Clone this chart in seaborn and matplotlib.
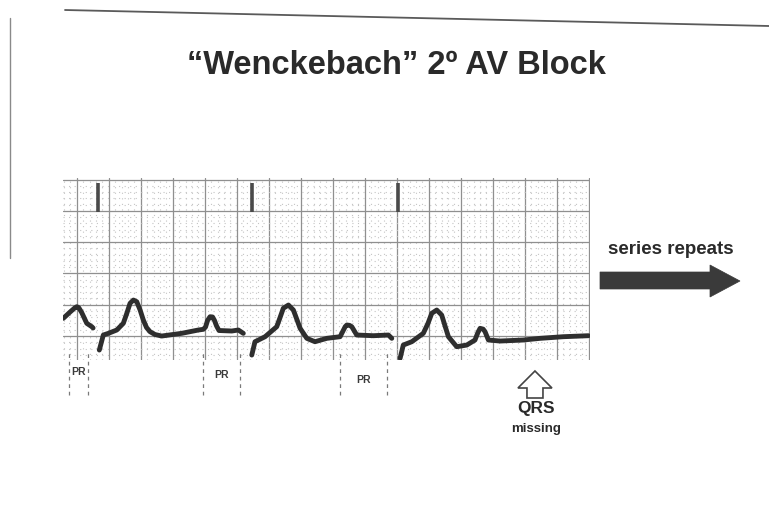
import numpy as np
import pandas as pd
import matplotlib
matplotlib.use("Agg")
import matplotlib.pyplot as plt
import seaborn as sns
from matplotlib.patches import Polygon

# ---------------- data (time in s, amplitude in mV) ----------------
seg1_t = [-0.084, -0.042, -0.012, 0.000, 0.012, 0.030, 0.0625, 0.094, 0.102]
seg1_mv = [0.283, 0.383, 0.450, 0.468, 0.455, 0.380, 0.203, 0.149, 0.128]

seg2_t = [0.141, 0.166, 0.198, 0.250, 0.291, 0.3125, 0.333, 0.354, 0.375, 0.396,
          0.416, 0.436, 0.458, 0.489, 0.531, 0.656, 0.760, 0.791, 0.805, 0.8175,
          0.833, 0.849, 0.861, 0.874, 0.889, 0.969, 1.010, 1.041]
seg2_mv = [-0.224, 0.016, 0.043, 0.096, 0.203, 0.360, 0.522, 0.575, 0.548, 0.415,
           0.256, 0.136, 0.069, 0.024, 0.000, 0.043, 0.096, 0.107, 0.144, 0.248,
           0.308, 0.304, 0.248, 0.160, 0.088, 0.080, 0.096, 0.043]

seg3_t = [1.094, 1.114, 1.177, 1.250, 1.270, 1.291, 1.323, 1.354, 1.375, 1.396,
          1.438, 1.489, 1.563, 1.646, 1.664, 1.678, 1.688, 1.705, 1.719, 1.750,
          1.854, 1.948, 1.969]
seg3_mv = [-0.304, -0.091, -0.011, 0.149, 0.290, 0.443, 0.495, 0.415, 0.270, 0.123,
           -0.037, -0.091, -0.037, -0.011, 0.080, 0.150, 0.176, 0.170, 0.149, 0.016,
           0.005, 0.016, -0.037]

seg4_t = [2.021, 2.041, 2.094, 2.166, 2.195, 2.219, 2.250, 2.281, 2.302, 2.323,
          2.375, 2.438, 2.489, 2.508, 2.521, 2.540, 2.552, 2.573, 2.646, 2.791,
          2.896, 3.041, 3.198]
seg4_mv = [-0.356, -0.144, -0.091, 0.043, 0.200, 0.363, 0.415, 0.335, 0.160, -0.011,
           -0.171, -0.144, -0.064, 0.060, 0.123, 0.110, 0.069, -0.064, -0.080, -0.064,
           -0.037, -0.011, 0.005]

r_wave_t = [0.133, 1.094, 2.008]                 # R-wave marks along the top
pr_start_t = [-0.048, 0.788, 1.646]              # PR interval starts
pr_end_t = [0.069, 1.021, 1.938]                 # PR interval ends
pr_labels = ["PR", "PR", "PR"]
missing_qrs_t = 2.864

title_text = "\u201cWenckebach\u201d 2\u00ba AV Block"
repeat_text = "series repeats"
missing_text = ["QRS", "missing"]

segments = [(seg1_t, seg1_mv), (seg2_t, seg2_mv), (seg3_t, seg3_mv), (seg4_t, seg4_mv)]
df = pd.concat(
    [pd.DataFrame({"t": t, "mv": v, "seg": i}) for i, (t, v) in enumerate(segments)],
    ignore_index=True,
)

# ---------------- figure ----------------
sns.set_theme(style="white")
plt.rcParams["font.family"] = ["Liberation Sans", "DejaVu Sans"]

W, H = 769, 514
fig = plt.figure(figsize=(W / 100, H / 100), dpi=100)
fig.patch.set_facecolor("white")

bg = fig.add_axes([0, 0, 1, 1])
bg.set_xlim(0, W)
bg.set_ylim(H, 0)
bg.axis("off")

# scanned slide frame
bg.plot([65, 769], [10, 26], color="#5a5a5a", lw=1.3)
bg.plot([10, 10], [18, 258], color="#8a8a8a", lw=1.0)

# title
bg.text(396, 66, title_text, ha="center", va="center", fontsize=23.5,
        fontweight="bold", color="#2a2a2a")

# ECG strip axes (pixel box 63..590 x 178..360)
left, right, top, bottom = 63, 590, 178, 360
ax = fig.add_axes([left / W, (H - bottom) / H, (right - left) / W, (bottom - top) / H])
ax.set_facecolor("none")
ax.set_xlim(-0.086, 3.208)
ax.set_ylim(-0.383, 2.524)
ax.set_xticks(np.arange(0, 3.21, 0.2))
ax.set_xticks(np.arange(-0.08, 3.21, 0.04), minor=True)
ax.set_yticks(np.arange(0, 2.51, 0.5))
ax.set_yticks(np.arange(-0.3, 2.52, 0.1), minor=True)
ax.grid(which="major", color="#8f8f8f", lw=0.9)
ax.grid(which="minor", color="#c4c4c4", lw=0.8, ls=(0, (1, 4)))
ax.set_axisbelow(True)
ax.tick_params(which="both", length=0, labelbottom=False, labelleft=False)
for s in ax.spines.values():
    s.set_visible(False)

sns.lineplot(data=df, x="t", y="mv", units="seg", estimator=None, sort=False,
             color="#2e2e2e", lw=3.5, ax=ax, legend=False,
             solid_joinstyle="round", solid_capstyle="round")
ax.set_xlabel("")
ax.set_ylabel("")

# R-wave marks at top of strip
ax.vlines(r_wave_t, 1.98, 2.44, color="#4a4a4a", lw=2.6)

# PR interval dashed markers
pr_label_y = [-0.575, -0.623, -0.703]
for a, b, lab, ly in zip(pr_start_t, pr_end_t, pr_labels, pr_label_y):
    ax.vlines([a, b], -0.95, -0.22, color="#7a7a7a", lw=0.9, ls=(0, (3, 3)),
              clip_on=False)
    ax.text((a + b) / 2, ly, lab, ha="center", va="center", fontsize=7.5,
            fontweight="bold", color="#3a3a3a", clip_on=False)

# "QRS missing" hollow arrow (pixel coords)
cx = left + (missing_qrs_t + 0.086) / (3.208 + 0.086) * (right - left)
arrow = Polygon([(cx, 371), (cx - 17, 388), (cx - 8, 388), (cx - 8, 398),
                 (cx + 8, 398), (cx + 8, 388), (cx + 17, 388)],
                closed=True, facecolor="white", edgecolor="#444444", lw=1.2)
bg.add_patch(arrow)
bg.text(cx + 1, 409, missing_text[0], ha="center", va="center", fontsize=12.5,
        fontweight="bold", color="#2a2a2a")
bg.text(cx + 1, 429, missing_text[1], ha="center", va="center", fontsize=9.5,
        fontweight="bold", color="#2a2a2a")

# "series repeats" arrow
bg.text(671, 250, repeat_text, ha="center", va="center", fontsize=13.5,
        fontweight="bold", color="#2a2a2a")
big = Polygon([(600, 272), (710, 272), (710, 265), (740, 281), (710, 297),
               (710, 289), (600, 289)], closed=True, facecolor="#3a3a3a",
              edgecolor="#3a3a3a", lw=0.5)
bg.add_patch(big)

fig.savefig("out.png", dpi=100, facecolor="white")
